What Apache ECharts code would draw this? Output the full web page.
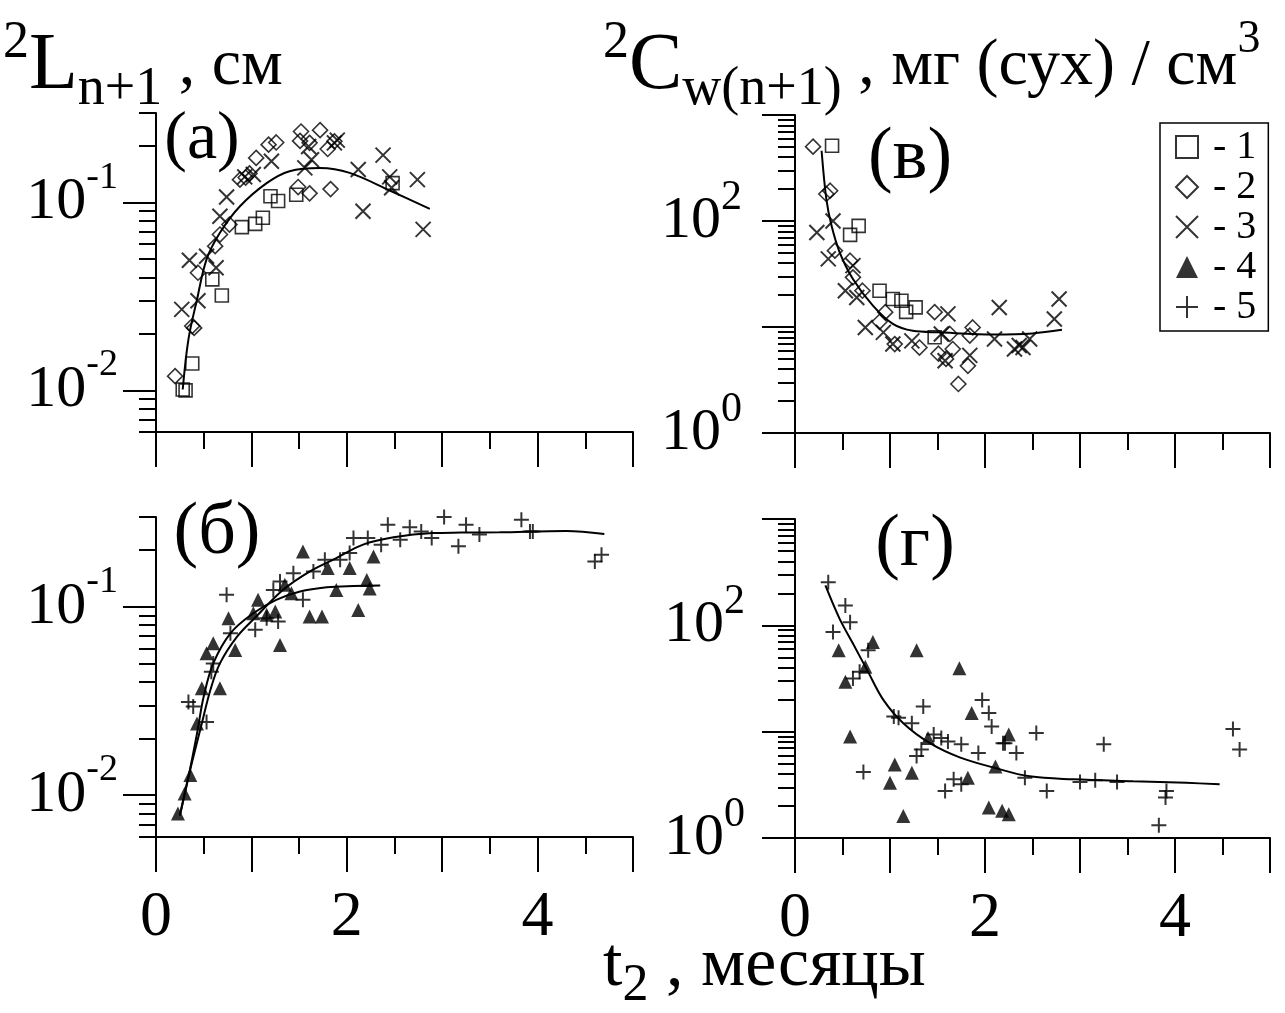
<!DOCTYPE html>
<html><head><meta charset="utf-8">
<script src="https://cdn.jsdelivr.net/npm/echarts@6/dist/echarts.min.js"></script>
<style>html,body{margin:0;padding:0;background:#fff}#c{width:1285px;height:1013px}</style>
</head><body><div id="c"></div>
<script>
// ---- tick / label values ----
const xLabelValues = [0, 2, 4];
const yLeftMajors = [0.01, 0.1];
const yLeftMinors = [0.006,0.007,0.008,0.009,0.02,0.03,0.04,0.05,0.06,0.07,0.08,0.09,0.2,0.3];
const yLeftLabels = [0.01, 0.1];
const yRightMajors = [1, 10, 100, 1000];
const yRightMinors = [2,3,4,5,6,7,8,9,20,30,40,50,60,70,80,90,200,300,400,500,600,700,800,900];
const yRightLabels = [1, 100];
const legendNames = ['1','2','3','4','5'];

// ---- panel (а): L, series 1,2,3 ----
const aS1 = [[0.28,0.0101],[0.31,0.0100],[0.38,0.0139],[0.59,0.039],[0.69,0.032],[0.90,0.074],[1.04,0.077],[1.12,0.083],[1.20,0.108],[1.28,0.102],[1.47,0.110],[2.48,0.127]];
const aS2 = [[0.20,0.0119],[0.38,0.022],[0.40,0.0215],[0.44,0.0423],[0.62,0.0586],[0.67,0.0676],[0.77,0.0764],[0.88,0.1325],[0.94,0.136],[0.98,0.143],[1.05,0.173],[1.18,0.2035],[1.26,0.209],[1.49,0.121],[1.51,0.213],[1.52,0.239],[1.61,0.208],[1.61,0.112],[1.72,0.243],[1.80,0.193],[1.83,0.118],[1.87,0.212]];
const aS3 = [[0.27,0.027],[0.35,0.0493],[0.44,0.030],[0.53,0.0518],[0.63,0.045],[0.67,0.0846],[0.74,0.107],[0.93,0.137],[1.02,0.141],[1.21,0.166],[1.56,0.153],[1.60,0.199],[1.63,0.169],[1.87,0.208],[1.90,0.215],[2.12,0.150],[2.17,0.090],[2.38,0.179],[2.45,0.137],[2.47,0.120],[2.74,0.1325],[2.80,0.072]];
const aFit = [[0.28,0.0101],[0.34,0.0187],[0.43,0.0305],[0.53,0.0498],[0.67,0.069],[0.88,0.0956],[1.16,0.127],[1.40,0.147],[1.72,0.153],[2.03,0.144],[2.45,0.116],[2.87,0.0926]];

// ---- panel (в): Cw, series 1,2,3 ----
const vS1 = [[0.39,513],[0.67,90],[0.58,74],[0.89,22],[1.03,18.4],[1.12,17.7],[1.17,13.9],[1.27,15.3],[1.47,8.0]];
const vS2 = [[0.19,503],[0.37,193],[0.33,180],[0.42,52.5],[0.58,42.2],[0.61,29.4],[0.71,22],[0.95,13.8],[0.89,11.2],[1.05,6.9],[1.31,6.4],[1.47,13.8],[1.51,5.6],[1.63,8.6],[1.66,6.2],[1.72,2.9],[1.82,4.3],[1.87,9.9],[1.84,8.3],[1.59,5.0]];
const vS3 = [[0.23,78],[0.40,100],[0.35,43.9],[0.61,37.9],[0.53,22],[0.65,19],[0.74,9.9],[0.93,8.9],[1.03,6.9],[1.23,7.4],[1.61,13.3],[1.54,8.6],[1.58,4.8],[1.84,5.4],[2.10,7.7],[2.15,15.3],[2.31,6.2],[2.36,6.7],[2.40,6.4],[2.47,7.7],[2.73,11.9],[2.78,18.4]];
const vFit = [[0.28,460],[0.33,161],[0.385,90],[0.47,50.7],[0.61,28.4],[0.82,15.9],[1.03,10.7],[1.24,9.2],[1.52,8.9],[2.1,8.5],[2.5,8.7],[2.81,9.4]];

// ---- panel (б): L, series 4,5 ----
const bS4 = [[0.23,0.0080],[0.30,0.0102],[0.36,0.0128],[0.43,0.024],[0.48,0.037],[0.53,0.0568],[0.60,0.0641],[0.67,0.037],[0.76,0.087],[0.83,0.059],[1.02,0.0925],[1.07,0.109],[1.16,0.0907],[1.25,0.0944],[1.30,0.0628],[1.35,0.131],[1.42,0.118],[1.54,0.197],[1.61,0.0888],[1.74,0.0888],[1.80,0.161],[1.89,0.123],[2.03,0.161],[2.12,0.0963],[2.21,0.139],[2.24,0.125],[2.28,0.185]];
const bS5 = [[0.34,0.0313],[0.39,0.0296],[0.53,0.0245],[0.58,0.0453],[0.60,0.050],[0.74,0.116],[0.78,0.0724],[1.04,0.0755],[1.16,0.087],[1.23,0.123],[1.28,0.0835],[1.30,0.1365],[1.44,0.151],[1.54,0.109],[1.65,0.154],[1.77,0.178],[1.93,0.178],[2.03,0.193],[2.07,0.232],[2.22,0.232],[2.36,0.214],[2.43,0.273],[2.56,0.227],[2.66,0.265],[2.78,0.251],[2.89,0.232],[3.02,0.30],[3.17,0.21],[3.25,0.273],[3.39,0.242],[3.83,0.29],[3.92,0.251],[3.95,0.251],[4.60,0.174],[4.67,0.189]];
const bFit4 = [[0.25,0.0078],[0.34,0.0125],[0.43,0.0213],[0.50,0.0334],[0.60,0.0501],[0.78,0.0724],[1.02,0.0925],[1.26,0.109],[1.51,0.1206],[1.79,0.127],[2.07,0.129],[2.35,0.1298]];
const bFit5 = [[0.25,0.0078],[0.34,0.0125],[0.48,0.024],[0.57,0.0362],[0.67,0.0501],[0.85,0.0695],[1.05,0.0888],[1.33,0.123],[1.61,0.154],[1.89,0.1815],[2.17,0.214],[2.49,0.234],[2.90,0.2465],[3.2,0.248],[3.6,0.249],[4.3,0.253],[4.70,0.244]];

// ---- panel (г): Cw, series 4,5 ----
const gS4 = [[0.46,58.3],[0.53,29.5],[0.58,9.0],[0.82,69.8],[0.74,40.8],[1.05,4.9],[1.00,3.31],[1.14,1.61],[1.23,4.11],[1.28,58.3],[1.40,8.7],[1.73,39.4],[1.86,15],[1.82,3.69],[2.04,1.94],[2.11,4.7],[2.18,1.8],[2.25,1.67],[2.25,9.4]];
const gS5 = [[0.35,254],[0.53,154],[0.58,107],[0.40,86.5],[0.77,58.3],[0.68,36.6],[0.61,31.7],[0.72,4.17],[1.04,13.9],[1.09,13.5],[1.23,12.0],[1.35,17.2],[1.28,5.9],[1.33,6.8],[1.46,9.4],[1.54,8.7],[1.61,8.1],[1.75,7.6],[1.93,6.3],[1.97,19.9],[2.04,15],[2.07,11.2],[2.19,7.8],[2.21,7.8],[2.33,6.3],[2.54,9.7],[1.67,3.56],[1.75,3.2],[1.58,2.77],[2.42,3.69],[2.65,2.77],[3.00,3.36],[3.16,3.5],[3.39,3.36],[3.25,7.6],[3.91,2.77],[3.90,2.4],[3.83,1.32],[4.61,10.6],[4.68,6.8]];
const gFit = [[0.32,237],[0.47,115],[0.61,67.4],[0.76,37.9],[0.93,19.9],[1.14,12.0],[1.42,7.8],[1.74,5.7],[2.09,4.6],[2.47,3.8],[2.93,3.56],[3.56,3.41],[4.12,3.3],[4.47,3.2]];

const FONT = 'Liberation Serif';
const BLACK = '#000';

function xAx(g, showLabels) {
  return {
    gridIndex: g, type: 'value', min: 0, max: 5, interval: 1,
    axisLine: { show: true, onZero: false, lineStyle: { color: BLACK, width: 2 } },
    axisTick: { show: true, length: 35, lineStyle: { color: BLACK, width: 2 } },
    minorTick: { show: true, splitNumber: 2, length: 17, lineStyle: { color: BLACK, width: 2 } },
    splitLine: { show: false }, minorSplitLine: { show: false },
    axisLabel: {
      show: showLabels, margin: 49, color: BLACK, fontFamily: FONT, fontSize: 64,
      formatter: v => xLabelValues.indexOf(v) >= 0 ? String(v) : ''
    }
  };
}
function labelRich(supSize) {
  return {
    b: { fontFamily: FONT, fontSize: 60, lineHeight: 88, color: BLACK },
    s: { fontFamily: FONT, fontSize: supSize, lineHeight: 22, verticalAlign: 'top', color: BLACK }
  };
}
function yMain(g, min, max, majors, labels, margin, supSize) {
  return {
    gridIndex: g, type: 'log', logBase: 10, min: min, max: max, position: 'left',
    axisLine: { show: true, onZero: false, lineStyle: { color: BLACK, width: 2 } },
    axisTick: { show: true, length: 33, customValues: majors, lineStyle: { color: BLACK, width: 2 } },
    axisLabel: {
      show: true, customValues: labels, margin: margin,
      formatter: v => '{b|10}{s|' + Math.round(Math.log10(v)) + '}',
      rich: labelRich(supSize)
    },
    splitLine: { show: false }, minorTick: { show: false }
  };
}
function yMinor(g, min, max, minors) {
  return {
    gridIndex: g, type: 'log', logBase: 10, min: min, max: max, position: 'left',
    axisLine: { show: false },
    axisTick: { show: true, length: 17, customValues: minors, lineStyle: { color: BLACK, width: 2 } },
    axisLabel: { show: false }, splitLine: { show: false }
  };
}

const hollow = { color: 'rgba(0,0,0,0)', borderColor: BLACK, borderWidth: 1.6 };
const SYM = {
  '1': { symbol: 'rect', symbolSize: 13, itemStyle: hollow },
  '2': { symbol: 'diamond', symbolSize: 15, itemStyle: hollow },
  '3': { symbol: 'path://M0,0L10,10M10,0L0,10', symbolSize: 15, itemStyle: { color: 'rgba(0,0,0,0)', borderColor: BLACK, borderWidth: 2 } },
  '4': { symbol: 'triangle', symbolSize: 14, itemStyle: { color: BLACK, borderColor: BLACK, borderWidth: 0 } },
  '5': { symbol: 'path://M5,0L5,10M0,5L10,5', symbolSize: 15, itemStyle: { color: 'rgba(0,0,0,0)', borderColor: BLACK, borderWidth: 2 } }
};
function sc(name, g, yi, data) {
  return Object.assign({ type: 'scatter', name: name, xAxisIndex: g, yAxisIndex: yi, data: data, z: 3,
    emphasis: { disabled: true }, silent: true }, SYM[name]);
}
function fit(g, yi, data) {
  return { type: 'line', xAxisIndex: g, yAxisIndex: yi, data: data, smooth: 0.35, symbol: 'none',
    lineStyle: { color: BLACK, width: 2 }, z: 2, silent: true, emphasis: { disabled: true } };
}

const option = {
  animation: false,
  backgroundColor: '#fff',
  textStyle: { fontFamily: FONT, color: BLACK },
  grid: [
    { left: 156, top: 113, width: 477, height: 319 },
    { left: 795, top: 115, width: 475, height: 318 },
    { left: 156, top: 517, width: 477, height: 320 },
    { left: 795, top: 519, width: 475, height: 319 }
  ],
  xAxis: [xAx(0, false), xAx(1, false), xAx(2, true), xAx(3, true)],
  yAxis: [
    yMain(0, 0.006, 0.3, yLeftMajors, yLeftLabels, 38, 38), yMinor(0, 0.006, 0.3, yLeftMinors),
    yMain(1, 1, 1000, yRightMajors, yRightLabels, 53, 42), yMinor(1, 1, 1000, yRightMinors),
    yMain(2, 0.006, 0.3, yLeftMajors, yLeftLabels, 38, 38), yMinor(2, 0.006, 0.3, yLeftMinors),
    yMain(3, 1, 1000, yRightMajors, yRightLabels, 50, 42), yMinor(3, 1, 1000, yRightMinors)
  ],
  legend: {
    orient: 'vertical', left: 1160, top: 123, data: legendNames, formatter: n => ' - ' + n,
    itemWidth: 22, itemHeight: 22, itemGap: 0, padding: [4, 12, 4, 15],
    borderColor: BLACK, borderWidth: 1.5, selectedMode: false,
    textStyle: { fontFamily: FONT, fontSize: 40, lineHeight: 40, color: BLACK }
  },
  series: [
    fit(0, 0, aFit), sc('1', 0, 0, aS1), sc('2', 0, 0, aS2), sc('3', 0, 0, aS3),
    fit(1, 2, vFit), sc('1', 1, 2, vS1), sc('2', 1, 2, vS2), sc('3', 1, 2, vS3),
    fit(2, 4, bFit4), fit(2, 4, bFit5), sc('4', 2, 4, bS4), sc('5', 2, 4, bS5),
    fit(3, 6, gFit), sc('4', 3, 6, gS4), sc('5', 3, 6, gS5)
  ],
  graphic: [
    { type: 'text', silent: true, style: { x: 3, y: 17, align: 'left', verticalAlign: 'top',
      text: '{sup|2}{big|L}{sub|n+1}{main| , см}',
      rich: {
        sup: { fontFamily: FONT, fontSize: 52, lineHeight: 20, verticalAlign: 'top', fill: BLACK },
        big: { fontFamily: FONT, fontSize: 80, lineHeight: 100, fill: BLACK },
        sub: { fontFamily: FONT, fontSize: 54, lineHeight: 71, verticalAlign: 'bottom', fill: BLACK },
        main: { fontFamily: FONT, fontSize: 66, lineHeight: 100, fill: BLACK }
      } } },
    { type: 'text', silent: true, style: { x: 603, y: 17, align: 'left', verticalAlign: 'top',
      text: '{sup|2}{big|C}{sub|w(n+1)}{main| , мг (сух) / см}{sup3|3}',
      rich: {
        sup: { fontFamily: FONT, fontSize: 52, lineHeight: 20, verticalAlign: 'top', fill: BLACK },
        big: { fontFamily: FONT, fontSize: 80, lineHeight: 100, fill: BLACK },
        sub: { fontFamily: FONT, fontSize: 54, lineHeight: 70, verticalAlign: 'bottom', fill: BLACK },
        main: { fontFamily: FONT, fontSize: 66, lineHeight: 100, fill: BLACK },
        sup3: { fontFamily: FONT, fontSize: 46, lineHeight: 45, verticalAlign: 'top', fill: BLACK }
      } } },
    { type: 'text', silent: true, style: { x: 603, y: 922, align: 'left', verticalAlign: 'top',
      text: '{main|t}{sub|2}{main| , месяцы}',
      rich: {
        main: { fontFamily: FONT, fontSize: 70, lineHeight: 90, fill: BLACK },
        sub: { fontFamily: FONT, fontSize: 52, lineHeight: 37, verticalAlign: 'bottom', fill: BLACK }
      } } },
    { type: 'text', silent: true, style: { x: 202, y: 140, text: '(а)', fontFamily: FONT, fontSize: 68, fill: BLACK, align: 'center', verticalAlign: 'middle' } },
    { type: 'text', silent: true, style: { x: 910, y: 159, text: '(в)', fontFamily: FONT, fontSize: 74, fill: BLACK, align: 'center', verticalAlign: 'middle' } },
    { type: 'text', silent: true, style: { x: 217, y: 534, text: '(б)', fontFamily: FONT, fontSize: 74, fill: BLACK, align: 'center', verticalAlign: 'middle' } },
    { type: 'text', silent: true, style: { x: 915, y: 546, text: '(г)', fontFamily: FONT, fontSize: 74, fill: BLACK, align: 'center', verticalAlign: 'middle' } }
  ]
};
const chart = echarts.init(document.getElementById('c'), null, { renderer: 'canvas' });
chart.setOption(option);
</script></body></html>
